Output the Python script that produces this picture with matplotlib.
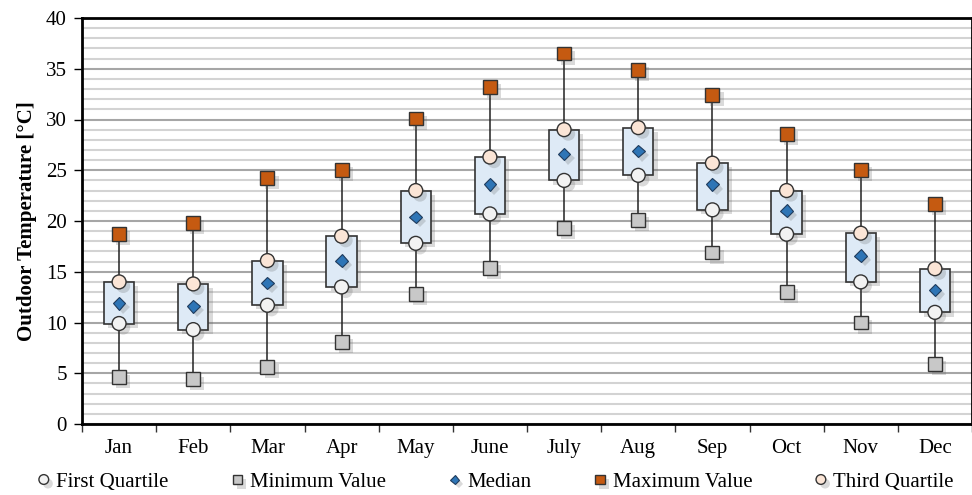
import matplotlib as mpl
mpl.use('Agg')
from matplotlib import pyplot as plt
from matplotlib import patheffects as pe
from matplotlib.ticker import MultipleLocator
import numpy as np

plt.rcParams['font.family'] = ['Liberation Serif', 'DejaVu Serif']

# Monthly outdoor temperature statistics [°C]
months = ['Jan', 'Feb', 'Mar', 'Apr', 'May', 'June', 'July', 'Aug', 'Sep', 'Oct', 'Nov', 'Dec']
min_value = [4.6, 4.4, 5.6, 8.1, 12.8, 15.4, 19.3, 20.1, 16.9, 13.0, 10.0, 5.9]
first_quartile = [9.9, 9.3, 11.7, 13.5, 17.8, 20.7, 24.0, 24.5, 21.1, 18.7, 14.0, 11.0]
median = [11.9, 11.6, 13.9, 16.1, 20.4, 23.6, 26.6, 26.9, 23.6, 21.0, 16.6, 13.2]
third_quartile = [14.0, 13.8, 16.1, 18.5, 23.0, 26.3, 29.0, 29.2, 25.7, 23.0, 18.8, 15.3]
max_value = [18.7, 19.8, 24.2, 25.0, 30.1, 33.2, 36.5, 34.9, 32.4, 28.6, 25.0, 21.7]

x = np.arange(len(months))

fig = plt.figure(figsize=(9.72, 4.95), dpi=100)
ax = fig.add_axes([82 / 972, 1 - 424 / 495, 1 - 82 / 972, (424 - 18) / 495])

# soft drop shadow for boxes and markers
shadow = [pe.SimplePatchShadow(offset=(3, -3), shadow_rgbFace='0.35', alpha=0.22), pe.Normal()]

# whiskers from min to max
ax.vlines(x, min_value, max_value, color='#222222', lw=1.1, zorder=2)

# boxes between the quartiles
q1 = np.array(first_quartile)
q3 = np.array(third_quartile)
bars = ax.bar(x, q3 - q1, bottom=q1, width=0.41, color='#DEEAF6',
              edgecolor='#333333', linewidth=1.2, zorder=3)
for b in bars:
    b.set_path_effects(shadow)

ms = 10
ax.plot(x, first_quartile, 'o', ms=ms, mfc='#F2F2F2', mec='#333333', mew=1,
        label='First Quartile', zorder=4, path_effects=shadow)
ax.plot(x, min_value, 's', ms=ms, mfc='#C8C8C8', mec='#333333', mew=1,
        label='Minimum Value', zorder=4, path_effects=shadow)
ax.plot(x, median, 'D', ms=6.5, mfc='#2E75B6', mec='#1F3B5C', mew=0.8,
        label='Median', zorder=4, path_effects=shadow)
ax.plot(x, max_value, 's', ms=ms, mfc='#C55A11', mec='#333333', mew=1,
        label='Maximum Value', zorder=4, path_effects=shadow)
ax.plot(x, third_quartile, 'o', ms=ms, mfc='#FBE5D6', mec='#333333', mew=1,
        label='Third Quartile', zorder=4, path_effects=shadow)

ax.set_xlim(-0.5, len(months) - 0.5)
ax.set_ylim(0, 40)

# gridlines: darker every 5, light every 1
ax.yaxis.set_major_locator(MultipleLocator(5))
ax.yaxis.set_minor_locator(MultipleLocator(1))
ax.grid(axis='y', which='major', color='#A6A6A6', lw=1.5, zorder=0)
ax.grid(axis='y', which='minor', color='#D3D3D3', lw=1.5, zorder=0)
ax.set_axisbelow(True)

ax.set_xticks(x)
ax.set_xticklabels(months)
ax.set_xticks(np.arange(-0.5, len(months)), minor=True)
ax.tick_params(axis='x', which='major', length=0, labelsize=15, pad=11)
ax.tick_params(axis='x', which='minor', length=6, width=1, color='#333333')
ax.tick_params(axis='y', which='major', length=6, width=1, labelsize=15, pad=5)
ax.tick_params(axis='y', which='minor', length=0)

for s in ax.spines.values():
    s.set_linewidth(2)
    s.set_color('black')

ax.set_ylabel('Outdoor Temperature [°C]', fontsize=15, fontweight='bold', labelpad=6)

fig.legend(loc='center', bbox_to_anchor=(0.51, 13 / 495), ncol=5, frameon=False,
           fontsize=15, handlelength=0.6, handletextpad=0.3, columnspacing=3.0,
           markerscale=0.7)

plt.savefig('out.png', dpi=100)
